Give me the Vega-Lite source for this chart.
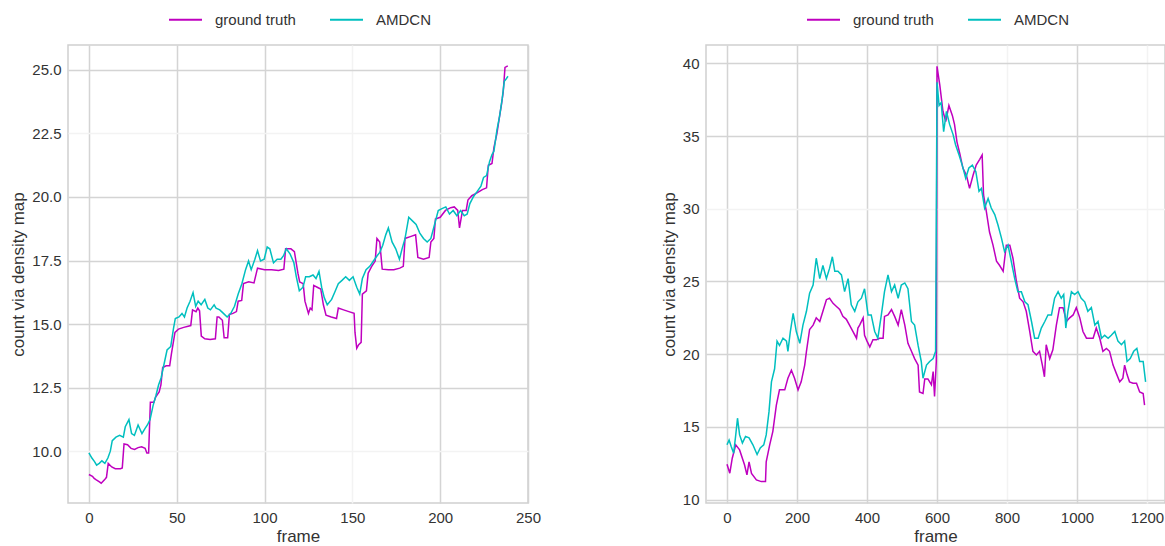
{
  "$schema": "https://vega.github.io/schema/vega-lite/v6.json",
  "padding": {"left": 9, "top": 1, "right": 0, "bottom": 5},
  "background": "white",
  "config": {
    "font": "Liberation Sans",
    "view": {"stroke": "#d0d0d0", "strokeWidth": 1.5},
    "axis": {"domain": false, "ticks": false, "labelFontSize": 15, "labelColor": "#333333", "titleFontSize": 17, "titleFontWeight": "normal", "titleColor": "#333333", "gridWidth": 1.5, "labelPadding": 7, "labelFlush": false},
    "legend": {"symbolType": "stroke", "symbolSize": 1089, "symbolStrokeWidth": 2, "labelFontSize": 15, "labelColor": "#333333", "labelOffset": 12, "columnPadding": 30, "padding": 0}
  },
  "datasets": {
    "left": [
      {"frame":0,"value":9.08,"series":"ground truth"},{"frame":2,"value":9.01,"series":"ground truth"},{"frame":3,"value":8.93,"series":"ground truth"},{"frame":4,"value":8.88,"series":"ground truth"},{"frame":6,"value":8.79,"series":"ground truth"},{"frame":7,"value":8.74,"series":"ground truth"},{"frame":9,"value":8.88,"series":"ground truth"},{"frame":10,"value":8.97,"series":"ground truth"},{"frame":11,"value":9.52,"series":"ground truth"},{"frame":13,"value":9.38,"series":"ground truth"},{"frame":15,"value":9.31,"series":"ground truth"},{"frame":18,"value":9.31,"series":"ground truth"},{"frame":19,"value":9.34,"series":"ground truth"},{"frame":20,"value":10.28,"series":"ground truth"},{"frame":22,"value":10.25,"series":"ground truth"},{"frame":24,"value":10.11,"series":"ground truth"},{"frame":26,"value":10.07,"series":"ground truth"},{"frame":28,"value":10.14,"series":"ground truth"},{"frame":30,"value":10.17,"series":"ground truth"},{"frame":32,"value":10.11,"series":"ground truth"},{"frame":33,"value":9.93,"series":"ground truth"},{"frame":34,"value":9.93,"series":"ground truth"},{"frame":35,"value":11.92,"series":"ground truth"},{"frame":37,"value":11.92,"series":"ground truth"},{"frame":38,"value":12.13,"series":"ground truth"},{"frame":40,"value":12.33,"series":"ground truth"},{"frame":41,"value":12.61,"series":"ground truth"},{"frame":42,"value":13.29,"series":"ground truth"},{"frame":44,"value":13.36,"series":"ground truth"},{"frame":46,"value":13.36,"series":"ground truth"},{"frame":47,"value":13.84,"series":"ground truth"},{"frame":49,"value":14.67,"series":"ground truth"},{"frame":51,"value":14.8,"series":"ground truth"},{"frame":54,"value":14.87,"series":"ground truth"},{"frame":58,"value":14.94,"series":"ground truth"},{"frame":59,"value":15.56,"series":"ground truth"},{"frame":61,"value":15.49,"series":"ground truth"},{"frame":62,"value":15.63,"series":"ground truth"},{"frame":63,"value":15.52,"series":"ground truth"},{"frame":64,"value":14.53,"series":"ground truth"},{"frame":66,"value":14.42,"series":"ground truth"},{"frame":69,"value":14.39,"series":"ground truth"},{"frame":72,"value":14.42,"series":"ground truth"},{"frame":73,"value":15.28,"series":"ground truth"},{"frame":74,"value":15.28,"series":"ground truth"},{"frame":76,"value":15.15,"series":"ground truth"},{"frame":77,"value":14.46,"series":"ground truth"},{"frame":79,"value":14.46,"series":"ground truth"},{"frame":80,"value":15.38,"series":"ground truth"},{"frame":82,"value":15.42,"series":"ground truth"},{"frame":84,"value":15.49,"series":"ground truth"},{"frame":85,"value":15.9,"series":"ground truth"},{"frame":87,"value":15.93,"series":"ground truth"},{"frame":88,"value":16.59,"series":"ground truth"},{"frame":91,"value":16.66,"series":"ground truth"},{"frame":94,"value":16.62,"series":"ground truth"},{"frame":96,"value":17.2,"series":"ground truth"},{"frame":100,"value":17.14,"series":"ground truth"},{"frame":104,"value":17.14,"series":"ground truth"},{"frame":108,"value":17.11,"series":"ground truth"},{"frame":111,"value":17.16,"series":"ground truth"},{"frame":112,"value":17.96,"series":"ground truth"},{"frame":115,"value":17.96,"series":"ground truth"},{"frame":117,"value":17.85,"series":"ground truth"},{"frame":119,"value":17.0,"series":"ground truth"},{"frame":120,"value":16.66,"series":"ground truth"},{"frame":122,"value":16.59,"series":"ground truth"},{"frame":123,"value":15.9,"series":"ground truth"},{"frame":125,"value":15.42,"series":"ground truth"},{"frame":126,"value":15.63,"series":"ground truth"},{"frame":127,"value":15.56,"series":"ground truth"},{"frame":128,"value":16.52,"series":"ground truth"},{"frame":130,"value":16.45,"series":"ground truth"},{"frame":132,"value":16.38,"series":"ground truth"},{"frame":133.5,"value":15.76,"series":"ground truth"},{"frame":135,"value":15.35,"series":"ground truth"},{"frame":138,"value":15.28,"series":"ground truth"},{"frame":141,"value":15.22,"series":"ground truth"},{"frame":142,"value":15.63,"series":"ground truth"},{"frame":145,"value":15.56,"series":"ground truth"},{"frame":148,"value":15.49,"series":"ground truth"},{"frame":151,"value":15.42,"series":"ground truth"},{"frame":151.5,"value":14.67,"series":"ground truth"},{"frame":152.5,"value":14.05,"series":"ground truth"},{"frame":153.6,"value":14.19,"series":"ground truth"},{"frame":155,"value":14.28,"series":"ground truth"},{"frame":155.7,"value":16.18,"series":"ground truth"},{"frame":158,"value":16.31,"series":"ground truth"},{"frame":159,"value":17.0,"series":"ground truth"},{"frame":161,"value":17.27,"series":"ground truth"},{"frame":163,"value":17.48,"series":"ground truth"},{"frame":164,"value":18.37,"series":"ground truth"},{"frame":165.6,"value":18.23,"series":"ground truth"},{"frame":167,"value":17.16,"series":"ground truth"},{"frame":170.5,"value":17.14,"series":"ground truth"},{"frame":173.6,"value":17.14,"series":"ground truth"},{"frame":177,"value":17.2,"series":"ground truth"},{"frame":179,"value":17.27,"series":"ground truth"},{"frame":180,"value":18.37,"series":"ground truth"},{"frame":183,"value":18.44,"series":"ground truth"},{"frame":186,"value":18.51,"series":"ground truth"},{"frame":187.3,"value":17.62,"series":"ground truth"},{"frame":190.5,"value":17.55,"series":"ground truth"},{"frame":193.7,"value":17.62,"series":"ground truth"},{"frame":194.7,"value":18.23,"series":"ground truth"},{"frame":196.4,"value":18.37,"series":"ground truth"},{"frame":197.3,"value":19.13,"series":"ground truth"},{"frame":200,"value":19.2,"series":"ground truth"},{"frame":203,"value":19.47,"series":"ground truth"},{"frame":206,"value":19.58,"series":"ground truth"},{"frame":208,"value":19.61,"series":"ground truth"},{"frame":210,"value":19.47,"series":"ground truth"},{"frame":211,"value":18.78,"series":"ground truth"},{"frame":212.7,"value":19.47,"series":"ground truth"},{"frame":214.8,"value":19.47,"series":"ground truth"},{"frame":215.8,"value":19.88,"series":"ground truth"},{"frame":218,"value":20.05,"series":"ground truth"},{"frame":221,"value":20.16,"series":"ground truth"},{"frame":224,"value":20.29,"series":"ground truth"},{"frame":226.4,"value":20.36,"series":"ground truth"},{"frame":227.4,"value":21.25,"series":"ground truth"},{"frame":229.5,"value":21.32,"series":"ground truth"},{"frame":230.6,"value":21.94,"series":"ground truth"},{"frame":232.3,"value":22.49,"series":"ground truth"},{"frame":233.8,"value":23.17,"series":"ground truth"},{"frame":234.8,"value":23.59,"series":"ground truth"},{"frame":235.9,"value":24.14,"series":"ground truth"},{"frame":236.9,"value":25.1,"series":"ground truth"},{"frame":238.5,"value":25.16,"series":"ground truth"},
      {"frame":0,"value":9.93,"series":"AMDCN"},{"frame":1.7,"value":9.73,"series":"AMDCN"},{"frame":3.2,"value":9.59,"series":"AMDCN"},{"frame":4.4,"value":9.45,"series":"AMDCN"},{"frame":5.9,"value":9.52,"series":"AMDCN"},{"frame":7.4,"value":9.62,"series":"AMDCN"},{"frame":9.1,"value":9.52,"series":"AMDCN"},{"frame":10.8,"value":9.73,"series":"AMDCN"},{"frame":12.2,"value":10.0,"series":"AMDCN"},{"frame":13.3,"value":10.41,"series":"AMDCN"},{"frame":15.4,"value":10.55,"series":"AMDCN"},{"frame":17.5,"value":10.62,"series":"AMDCN"},{"frame":19.6,"value":10.55,"series":"AMDCN"},{"frame":20.7,"value":10.96,"series":"AMDCN"},{"frame":22.8,"value":11.24,"series":"AMDCN"},{"frame":24.3,"value":10.69,"series":"AMDCN"},{"frame":25.9,"value":10.62,"series":"AMDCN"},{"frame":28,"value":11.03,"series":"AMDCN"},{"frame":30.2,"value":10.69,"series":"AMDCN"},{"frame":31.9,"value":10.89,"series":"AMDCN"},{"frame":33.3,"value":11.03,"series":"AMDCN"},{"frame":34.8,"value":11.24,"series":"AMDCN"},{"frame":36.5,"value":11.78,"series":"AMDCN"},{"frame":38.2,"value":12.2,"series":"AMDCN"},{"frame":39.7,"value":12.61,"series":"AMDCN"},{"frame":41.1,"value":12.88,"series":"AMDCN"},{"frame":42.8,"value":13.43,"series":"AMDCN"},{"frame":44.5,"value":13.98,"series":"AMDCN"},{"frame":46.6,"value":14.12,"series":"AMDCN"},{"frame":48.1,"value":14.8,"series":"AMDCN"},{"frame":49.2,"value":15.22,"series":"AMDCN"},{"frame":51.3,"value":15.28,"series":"AMDCN"},{"frame":53,"value":15.42,"series":"AMDCN"},{"frame":54.4,"value":15.28,"series":"AMDCN"},{"frame":55.9,"value":15.63,"series":"AMDCN"},{"frame":57.6,"value":15.9,"series":"AMDCN"},{"frame":59.3,"value":16.24,"series":"AMDCN"},{"frame":60.8,"value":15.7,"series":"AMDCN"},{"frame":62.2,"value":15.9,"series":"AMDCN"},{"frame":63.9,"value":15.76,"series":"AMDCN"},{"frame":66,"value":15.97,"series":"AMDCN"},{"frame":67.7,"value":15.63,"series":"AMDCN"},{"frame":69.2,"value":15.56,"series":"AMDCN"},{"frame":71.3,"value":15.76,"series":"AMDCN"},{"frame":72.4,"value":15.63,"series":"AMDCN"},{"frame":74.5,"value":15.56,"series":"AMDCN"},{"frame":76.6,"value":15.42,"series":"AMDCN"},{"frame":78.7,"value":15.28,"series":"AMDCN"},{"frame":80.8,"value":15.42,"series":"AMDCN"},{"frame":82.9,"value":15.7,"series":"AMDCN"},{"frame":85,"value":16.18,"series":"AMDCN"},{"frame":87.1,"value":16.59,"series":"AMDCN"},{"frame":89.2,"value":17.14,"series":"AMDCN"},{"frame":90.9,"value":17.48,"series":"AMDCN"},{"frame":92.4,"value":17.14,"series":"AMDCN"},{"frame":94.5,"value":17.55,"series":"AMDCN"},{"frame":96,"value":17.89,"series":"AMDCN"},{"frame":97.7,"value":17.48,"series":"AMDCN"},{"frame":99.8,"value":17.55,"series":"AMDCN"},{"frame":101.5,"value":18.03,"series":"AMDCN"},{"frame":103,"value":17.96,"series":"AMDCN"},{"frame":105.1,"value":17.41,"series":"AMDCN"},{"frame":107.2,"value":17.55,"series":"AMDCN"},{"frame":109.3,"value":17.55,"series":"AMDCN"},{"frame":110.8,"value":17.69,"series":"AMDCN"},{"frame":112.4,"value":17.96,"series":"AMDCN"},{"frame":114.6,"value":17.75,"series":"AMDCN"},{"frame":116.7,"value":17.41,"series":"AMDCN"},{"frame":118.1,"value":16.86,"series":"AMDCN"},{"frame":119.8,"value":16.31,"series":"AMDCN"},{"frame":121.9,"value":16.45,"series":"AMDCN"},{"frame":123.4,"value":16.86,"series":"AMDCN"},{"frame":125.5,"value":16.86,"series":"AMDCN"},{"frame":127.6,"value":16.93,"series":"AMDCN"},{"frame":129.3,"value":16.79,"series":"AMDCN"},{"frame":131,"value":17.07,"series":"AMDCN"},{"frame":132.5,"value":16.45,"series":"AMDCN"},{"frame":134,"value":16.04,"series":"AMDCN"},{"frame":135.7,"value":15.76,"series":"AMDCN"},{"frame":138.2,"value":15.97,"series":"AMDCN"},{"frame":139.9,"value":16.24,"series":"AMDCN"},{"frame":142,"value":16.59,"series":"AMDCN"},{"frame":144.1,"value":16.72,"series":"AMDCN"},{"frame":146.2,"value":16.86,"series":"AMDCN"},{"frame":148.3,"value":16.72,"series":"AMDCN"},{"frame":150.4,"value":16.86,"series":"AMDCN"},{"frame":152.5,"value":16.45,"series":"AMDCN"},{"frame":154.2,"value":16.18,"series":"AMDCN"},{"frame":155.7,"value":16.79,"series":"AMDCN"},{"frame":157.8,"value":17.14,"series":"AMDCN"},{"frame":159.9,"value":17.27,"series":"AMDCN"},{"frame":162,"value":17.48,"series":"AMDCN"},{"frame":164.1,"value":17.69,"series":"AMDCN"},{"frame":165.6,"value":17.82,"series":"AMDCN"},{"frame":167.3,"value":18.1,"series":"AMDCN"},{"frame":169,"value":18.51,"series":"AMDCN"},{"frame":170.5,"value":18.78,"series":"AMDCN"},{"frame":172.6,"value":18.23,"series":"AMDCN"},{"frame":174.7,"value":17.96,"series":"AMDCN"},{"frame":176.8,"value":17.55,"series":"AMDCN"},{"frame":178.3,"value":17.96,"series":"AMDCN"},{"frame":180,"value":18.37,"series":"AMDCN"},{"frame":182.1,"value":19.2,"series":"AMDCN"},{"frame":184.2,"value":19.06,"series":"AMDCN"},{"frame":186.3,"value":18.92,"series":"AMDCN"},{"frame":188.4,"value":18.58,"series":"AMDCN"},{"frame":190.5,"value":18.37,"series":"AMDCN"},{"frame":192.6,"value":18.23,"series":"AMDCN"},{"frame":194.7,"value":18.37,"series":"AMDCN"},{"frame":196.8,"value":18.92,"series":"AMDCN"},{"frame":198.9,"value":19.47,"series":"AMDCN"},{"frame":201,"value":19.54,"series":"AMDCN"},{"frame":203.2,"value":19.61,"series":"AMDCN"},{"frame":205.3,"value":19.33,"series":"AMDCN"},{"frame":207.4,"value":19.47,"series":"AMDCN"},{"frame":209.5,"value":19.26,"series":"AMDCN"},{"frame":211.6,"value":19.47,"series":"AMDCN"},{"frame":213.7,"value":19.26,"series":"AMDCN"},{"frame":215.4,"value":19.33,"series":"AMDCN"},{"frame":216.9,"value":19.74,"series":"AMDCN"},{"frame":219,"value":20.02,"series":"AMDCN"},{"frame":221.1,"value":20.22,"series":"AMDCN"},{"frame":223.2,"value":20.43,"series":"AMDCN"},{"frame":224.7,"value":20.77,"series":"AMDCN"},{"frame":226.4,"value":20.84,"series":"AMDCN"},{"frame":228.1,"value":21.39,"series":"AMDCN"},{"frame":229.5,"value":21.67,"series":"AMDCN"},{"frame":230.6,"value":21.8,"series":"AMDCN"},{"frame":232.3,"value":22.63,"series":"AMDCN"},{"frame":233.8,"value":23.17,"series":"AMDCN"},{"frame":235.3,"value":23.86,"series":"AMDCN"},{"frame":236.5,"value":24.55,"series":"AMDCN"},{"frame":237.3,"value":24.62,"series":"AMDCN"},{"frame":238.6,"value":24.75,"series":"AMDCN"}
    ],
    "right": [
      {"frame":0,"value":12.44,"series":"ground truth"},{"frame":8,"value":11.82,"series":"ground truth"},{"frame":15,"value":12.85,"series":"ground truth"},{"frame":25,"value":13.77,"series":"ground truth"},{"frame":36,"value":13.42,"series":"ground truth"},{"frame":50,"value":12.4,"series":"ground truth"},{"frame":57,"value":11.7,"series":"ground truth"},{"frame":63,"value":12.6,"series":"ground truth"},{"frame":70,"value":11.8,"series":"ground truth"},{"frame":84,"value":11.36,"series":"ground truth"},{"frame":98,"value":11.24,"series":"ground truth"},{"frame":110,"value":11.24,"series":"ground truth"},{"frame":112,"value":12.6,"series":"ground truth"},{"frame":122,"value":13.77,"series":"ground truth"},{"frame":131,"value":14.7,"series":"ground truth"},{"frame":141,"value":16.5,"series":"ground truth"},{"frame":150,"value":17.55,"series":"ground truth"},{"frame":165,"value":17.55,"series":"ground truth"},{"frame":174,"value":18.35,"series":"ground truth"},{"frame":184,"value":18.9,"series":"ground truth"},{"frame":193,"value":18.35,"series":"ground truth"},{"frame":203,"value":17.55,"series":"ground truth"},{"frame":212,"value":18.1,"series":"ground truth"},{"frame":222,"value":19.25,"series":"ground truth"},{"frame":227,"value":20.2,"series":"ground truth"},{"frame":236,"value":21.7,"series":"ground truth"},{"frame":246,"value":22.0,"series":"ground truth"},{"frame":255,"value":22.5,"series":"ground truth"},{"frame":265,"value":22.25,"series":"ground truth"},{"frame":274,"value":22.95,"series":"ground truth"},{"frame":284,"value":23.75,"series":"ground truth"},{"frame":293,"value":23.85,"series":"ground truth"},{"frame":303,"value":23.5,"series":"ground truth"},{"frame":312,"value":23.3,"series":"ground truth"},{"frame":322,"value":23.07,"series":"ground truth"},{"frame":331,"value":22.6,"series":"ground truth"},{"frame":341,"value":22.4,"series":"ground truth"},{"frame":350,"value":22.0,"series":"ground truth"},{"frame":360,"value":21.56,"series":"ground truth"},{"frame":370,"value":21.1,"series":"ground truth"},{"frame":374,"value":21.8,"series":"ground truth"},{"frame":379,"value":22.0,"series":"ground truth"},{"frame":389,"value":22.5,"series":"ground truth"},{"frame":393,"value":21.3,"series":"ground truth"},{"frame":400,"value":20.9,"series":"ground truth"},{"frame":408,"value":20.5,"series":"ground truth"},{"frame":417,"value":21.0,"series":"ground truth"},{"frame":427,"value":21.0,"series":"ground truth"},{"frame":436,"value":21.1,"series":"ground truth"},{"frame":446,"value":21.1,"series":"ground truth"},{"frame":450,"value":22.6,"series":"ground truth"},{"frame":460,"value":22.7,"series":"ground truth"},{"frame":470,"value":23.07,"series":"ground truth"},{"frame":479,"value":22.6,"series":"ground truth"},{"frame":489,"value":22.0,"series":"ground truth"},{"frame":498,"value":23.07,"series":"ground truth"},{"frame":508,"value":22.0,"series":"ground truth"},{"frame":517,"value":20.75,"series":"ground truth"},{"frame":527,"value":20.2,"series":"ground truth"},{"frame":536,"value":19.7,"series":"ground truth"},{"frame":546,"value":19.25,"series":"ground truth"},{"frame":550,"value":17.4,"series":"ground truth"},{"frame":560,"value":17.3,"series":"ground truth"},{"frame":565,"value":18.3,"series":"ground truth"},{"frame":574,"value":18.3,"series":"ground truth"},{"frame":584,"value":17.9,"series":"ground truth"},{"frame":589,"value":18.8,"series":"ground truth"},{"frame":593,"value":17.1,"series":"ground truth"},{"frame":598,"value":19.5,"series":"ground truth"},{"frame":600,"value":39.8,"series":"ground truth"},{"frame":608,"value":38.5,"series":"ground truth"},{"frame":617,"value":36.7,"series":"ground truth"},{"frame":625,"value":36.0,"series":"ground truth"},{"frame":634,"value":37.1,"series":"ground truth"},{"frame":644,"value":36.4,"series":"ground truth"},{"frame":650,"value":35.8,"series":"ground truth"},{"frame":657,"value":34.6,"series":"ground truth"},{"frame":665,"value":33.8,"series":"ground truth"},{"frame":674,"value":32.8,"series":"ground truth"},{"frame":684,"value":32.3,"series":"ground truth"},{"frame":693,"value":31.4,"series":"ground truth"},{"frame":703,"value":32.3,"series":"ground truth"},{"frame":712,"value":33.0,"series":"ground truth"},{"frame":722,"value":33.4,"series":"ground truth"},{"frame":729,"value":33.7,"series":"ground truth"},{"frame":733,"value":30.95,"series":"ground truth"},{"frame":741,"value":29.8,"series":"ground truth"},{"frame":750,"value":28.4,"series":"ground truth"},{"frame":760,"value":27.5,"series":"ground truth"},{"frame":770,"value":26.4,"series":"ground truth"},{"frame":779,"value":26.1,"series":"ground truth"},{"frame":789,"value":25.7,"series":"ground truth"},{"frame":798,"value":27.5,"series":"ground truth"},{"frame":808,"value":27.5,"series":"ground truth"},{"frame":817,"value":26.6,"series":"ground truth"},{"frame":827,"value":25.0,"series":"ground truth"},{"frame":836,"value":23.85,"series":"ground truth"},{"frame":846,"value":23.6,"series":"ground truth"},{"frame":855,"value":22.95,"series":"ground truth"},{"frame":865,"value":21.56,"series":"ground truth"},{"frame":874,"value":20.2,"series":"ground truth"},{"frame":884,"value":19.95,"series":"ground truth"},{"frame":893,"value":20.2,"series":"ground truth"},{"frame":901,"value":19.25,"series":"ground truth"},{"frame":907,"value":18.45,"series":"ground truth"},{"frame":912,"value":20.65,"series":"ground truth"},{"frame":922,"value":19.7,"series":"ground truth"},{"frame":931,"value":20.3,"series":"ground truth"},{"frame":941,"value":22.0,"series":"ground truth"},{"frame":950,"value":23.2,"series":"ground truth"},{"frame":960,"value":23.2,"series":"ground truth"},{"frame":970,"value":22.25,"series":"ground truth"},{"frame":979,"value":22.5,"series":"ground truth"},{"frame":989,"value":22.7,"series":"ground truth"},{"frame":998,"value":23.2,"series":"ground truth"},{"frame":1008,"value":22.5,"series":"ground truth"},{"frame":1017,"value":21.56,"series":"ground truth"},{"frame":1027,"value":21.1,"series":"ground truth"},{"frame":1036,"value":21.1,"series":"ground truth"},{"frame":1046,"value":21.1,"series":"ground truth"},{"frame":1055,"value":21.8,"series":"ground truth"},{"frame":1065,"value":21.1,"series":"ground truth"},{"frame":1074,"value":20.2,"series":"ground truth"},{"frame":1084,"value":20.4,"series":"ground truth"},{"frame":1093,"value":20.2,"series":"ground truth"},{"frame":1103,"value":19.25,"series":"ground truth"},{"frame":1112,"value":18.7,"series":"ground truth"},{"frame":1122,"value":18.1,"series":"ground truth"},{"frame":1131,"value":18.35,"series":"ground truth"},{"frame":1136,"value":19.25,"series":"ground truth"},{"frame":1143,"value":18.6,"series":"ground truth"},{"frame":1150,"value":18.1,"series":"ground truth"},{"frame":1160,"value":18.0,"series":"ground truth"},{"frame":1170,"value":18.0,"series":"ground truth"},{"frame":1179,"value":17.4,"series":"ground truth"},{"frame":1189,"value":17.3,"series":"ground truth"},{"frame":1193,"value":16.5,"series":"ground truth"},
      {"frame":0,"value":13.77,"series":"AMDCN"},{"frame":6,"value":14.1,"series":"AMDCN"},{"frame":12,"value":13.65,"series":"AMDCN"},{"frame":19,"value":13.2,"series":"AMDCN"},{"frame":25,"value":14.45,"series":"AMDCN"},{"frame":30,"value":15.6,"series":"AMDCN"},{"frame":36,"value":14.45,"series":"AMDCN"},{"frame":44,"value":13.9,"series":"AMDCN"},{"frame":53,"value":14.35,"series":"AMDCN"},{"frame":63,"value":14.25,"series":"AMDCN"},{"frame":74,"value":13.77,"series":"AMDCN"},{"frame":86,"value":13.1,"series":"AMDCN"},{"frame":95,"value":13.55,"series":"AMDCN"},{"frame":105,"value":13.77,"series":"AMDCN"},{"frame":112,"value":14.45,"series":"AMDCN"},{"frame":120,"value":16.05,"series":"AMDCN"},{"frame":127,"value":18.1,"series":"AMDCN"},{"frame":136,"value":19.0,"series":"AMDCN"},{"frame":143,"value":20.9,"series":"AMDCN"},{"frame":150,"value":20.6,"series":"AMDCN"},{"frame":160,"value":21.1,"series":"AMDCN"},{"frame":170,"value":20.9,"series":"AMDCN"},{"frame":174,"value":20.2,"series":"AMDCN"},{"frame":181,"value":21.56,"series":"AMDCN"},{"frame":189,"value":22.8,"series":"AMDCN"},{"frame":198,"value":21.56,"series":"AMDCN"},{"frame":208,"value":20.75,"series":"AMDCN"},{"frame":217,"value":22.0,"series":"AMDCN"},{"frame":227,"value":22.95,"series":"AMDCN"},{"frame":236,"value":24.2,"series":"AMDCN"},{"frame":246,"value":24.76,"series":"AMDCN"},{"frame":255,"value":26.6,"series":"AMDCN"},{"frame":265,"value":25.2,"series":"AMDCN"},{"frame":274,"value":26.1,"series":"AMDCN"},{"frame":284,"value":25.2,"series":"AMDCN"},{"frame":293,"value":25.9,"series":"AMDCN"},{"frame":301,"value":26.7,"series":"AMDCN"},{"frame":308,"value":25.7,"series":"AMDCN"},{"frame":317,"value":25.7,"series":"AMDCN"},{"frame":327,"value":25.45,"series":"AMDCN"},{"frame":336,"value":24.3,"series":"AMDCN"},{"frame":346,"value":25.2,"series":"AMDCN"},{"frame":355,"value":23.4,"series":"AMDCN"},{"frame":365,"value":22.95,"series":"AMDCN"},{"frame":374,"value":23.6,"series":"AMDCN"},{"frame":384,"value":23.85,"series":"AMDCN"},{"frame":393,"value":24.5,"series":"AMDCN"},{"frame":403,"value":22.7,"series":"AMDCN"},{"frame":412,"value":22.7,"series":"AMDCN"},{"frame":422,"value":21.56,"series":"AMDCN"},{"frame":431,"value":21.1,"series":"AMDCN"},{"frame":441,"value":22.7,"series":"AMDCN"},{"frame":450,"value":24.3,"series":"AMDCN"},{"frame":460,"value":25.45,"series":"AMDCN"},{"frame":470,"value":24.3,"series":"AMDCN"},{"frame":479,"value":24.76,"series":"AMDCN"},{"frame":489,"value":23.85,"series":"AMDCN"},{"frame":498,"value":24.76,"series":"AMDCN"},{"frame":508,"value":24.9,"series":"AMDCN"},{"frame":517,"value":24.5,"series":"AMDCN"},{"frame":527,"value":22.25,"series":"AMDCN"},{"frame":536,"value":22.0,"series":"AMDCN"},{"frame":546,"value":20.6,"series":"AMDCN"},{"frame":555,"value":19.5,"series":"AMDCN"},{"frame":560,"value":18.35,"series":"AMDCN"},{"frame":570,"value":19.25,"series":"AMDCN"},{"frame":579,"value":19.5,"series":"AMDCN"},{"frame":589,"value":19.7,"series":"AMDCN"},{"frame":596,"value":20.2,"series":"AMDCN"},{"frame":600,"value":38.7,"series":"AMDCN"},{"frame":606,"value":37.1,"series":"AMDCN"},{"frame":612,"value":37.3,"series":"AMDCN"},{"frame":619,"value":35.3,"series":"AMDCN"},{"frame":627,"value":36.7,"series":"AMDCN"},{"frame":636,"value":35.8,"series":"AMDCN"},{"frame":646,"value":35.1,"series":"AMDCN"},{"frame":653,"value":34.4,"series":"AMDCN"},{"frame":663,"value":33.7,"series":"AMDCN"},{"frame":672,"value":33.0,"series":"AMDCN"},{"frame":682,"value":32.1,"series":"AMDCN"},{"frame":691,"value":32.8,"series":"AMDCN"},{"frame":701,"value":33.0,"series":"AMDCN"},{"frame":711,"value":32.55,"series":"AMDCN"},{"frame":720,"value":31.2,"series":"AMDCN"},{"frame":727,"value":31.4,"series":"AMDCN"},{"frame":736,"value":30.05,"series":"AMDCN"},{"frame":746,"value":30.7,"series":"AMDCN"},{"frame":755,"value":30.05,"series":"AMDCN"},{"frame":765,"value":29.6,"series":"AMDCN"},{"frame":774,"value":28.9,"series":"AMDCN"},{"frame":784,"value":28.0,"series":"AMDCN"},{"frame":793,"value":27.05,"series":"AMDCN"},{"frame":803,"value":27.5,"series":"AMDCN"},{"frame":812,"value":26.4,"series":"AMDCN"},{"frame":822,"value":25.2,"series":"AMDCN"},{"frame":831,"value":24.3,"series":"AMDCN"},{"frame":841,"value":24.3,"series":"AMDCN"},{"frame":851,"value":23.6,"series":"AMDCN"},{"frame":860,"value":23.4,"series":"AMDCN"},{"frame":870,"value":22.25,"series":"AMDCN"},{"frame":879,"value":21.1,"series":"AMDCN"},{"frame":889,"value":21.1,"series":"AMDCN"},{"frame":898,"value":21.8,"series":"AMDCN"},{"frame":908,"value":22.25,"series":"AMDCN"},{"frame":917,"value":22.7,"series":"AMDCN"},{"frame":927,"value":22.7,"series":"AMDCN"},{"frame":936,"value":23.85,"series":"AMDCN"},{"frame":946,"value":24.3,"series":"AMDCN"},{"frame":955,"value":23.85,"series":"AMDCN"},{"frame":962,"value":24.1,"series":"AMDCN"},{"frame":968,"value":21.8,"series":"AMDCN"},{"frame":974,"value":22.95,"series":"AMDCN"},{"frame":984,"value":24.3,"series":"AMDCN"},{"frame":993,"value":24.1,"series":"AMDCN"},{"frame":1003,"value":24.3,"series":"AMDCN"},{"frame":1012,"value":23.85,"series":"AMDCN"},{"frame":1022,"value":23.6,"series":"AMDCN"},{"frame":1031,"value":22.95,"series":"AMDCN"},{"frame":1041,"value":23.2,"series":"AMDCN"},{"frame":1051,"value":22.0,"series":"AMDCN"},{"frame":1060,"value":22.25,"series":"AMDCN"},{"frame":1070,"value":21.1,"series":"AMDCN"},{"frame":1079,"value":21.3,"series":"AMDCN"},{"frame":1089,"value":21.1,"series":"AMDCN"},{"frame":1098,"value":21.3,"series":"AMDCN"},{"frame":1108,"value":21.56,"series":"AMDCN"},{"frame":1117,"value":20.9,"series":"AMDCN"},{"frame":1127,"value":20.65,"series":"AMDCN"},{"frame":1136,"value":20.9,"series":"AMDCN"},{"frame":1143,"value":19.5,"series":"AMDCN"},{"frame":1152,"value":19.7,"series":"AMDCN"},{"frame":1162,"value":20.2,"series":"AMDCN"},{"frame":1171,"value":20.4,"series":"AMDCN"},{"frame":1179,"value":19.5,"series":"AMDCN"},{"frame":1189,"value":19.5,"series":"AMDCN"},{"frame":1196,"value":18.1,"series":"AMDCN"}
    ]
  },
  "bounds": "flush",
  "spacing": 178,
  "resolve": {"scale": {"color": "independent"}},
  "hconcat": [
    {
      "width": 460,
      "height": 458,
      "data": {"name": "left"},
      "mark": {"type": "line", "strokeWidth": 1.5, "clip": true},
      "encoding": {
        "x": {"field": "frame", "type": "quantitative", "scale": {"domain": [-11.9, 250], "nice": false, "zero": false},
              "axis": {"values": [0, 50, 100, 150, 200, 250], "format": "d", "title": "frame", "titlePadding": 3,
                       "gridColor": {"condition": {"test": "datum.value === 150", "value": "#f3f3f3"}, "value": "#d4d4d4"}}},
        "y": {"field": "value", "type": "quantitative", "scale": {"domain": [7.96, 25.98], "nice": false, "zero": false},
              "axis": {"values": [10, 12.5, 15, 17.5, 20, 22.5, 25], "format": ".1f", "title": "count via density map", "titlePadding": 4,
                       "gridColor": {"condition": {"test": "datum.value === 22.5 || datum.value === 10", "value": "#f3f3f3"}, "value": "#d4d4d4"}}},
        "color": {"field": "series", "type": "nominal", "scale": {"domain": ["ground truth", "AMDCN"], "range": ["#bf00bf", "#00bfbf"]},
                  "legend": {"orient": "none", "legendX": 100, "legendY": -43, "direction": "horizontal", "title": null}}
      }
    },
    {
      "width": 459,
      "height": 458,
      "data": {"name": "right"},
      "mark": {"type": "line", "strokeWidth": 1.5, "clip": true},
      "encoding": {
        "x": {"field": "frame", "type": "quantitative", "scale": {"domain": [-60, 1251.4], "nice": false, "zero": false},
              "axis": {"values": [0, 200, 400, 600, 800, 1000, 1200], "format": "d", "title": "frame", "titlePadding": 3,
                       "gridColor": {"condition": {"test": "datum.value === 800 || datum.value === 1200", "value": "#f3f3f3"}, "value": "#d4d4d4"}}},
        "y": {"field": "value", "type": "quantitative", "scale": {"domain": [9.77, 41.26], "nice": false, "zero": false},
              "axis": {"values": [10, 15, 20, 25, 30, 35, 40], "format": "d", "title": "count via density map", "titlePadding": 4,
                       "gridColor": {"condition": {"test": "datum.value === 30", "value": "#f3f3f3"}, "value": "#d4d4d4"}}},
        "color": {"field": "series", "type": "nominal", "scale": {"domain": ["ground truth", "AMDCN"], "range": ["#bf00bf", "#00bfbf"]},
                  "legend": {"orient": "none", "legendX": 100, "legendY": -43, "direction": "horizontal", "title": null}}
      }
    }
  ]
}
